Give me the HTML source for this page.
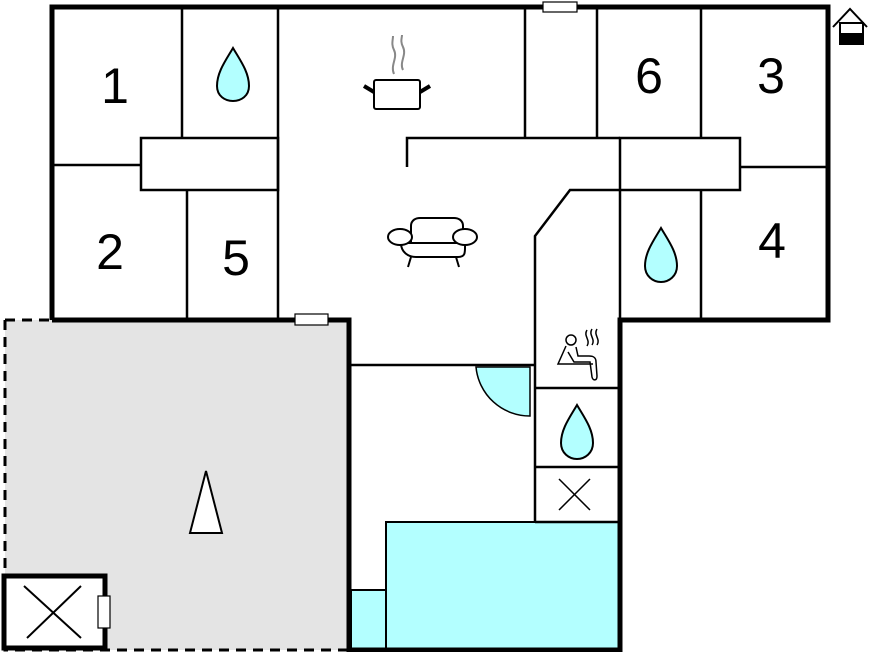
<!DOCTYPE html>
<html><head><style>html,body{margin:0;padding:0;background:#fff}svg{display:block}</style></head><body>
<svg width="874" height="652" viewBox="0 0 874 652" xmlns="http://www.w3.org/2000/svg" font-family="Liberation Sans, sans-serif">
<!-- terrace -->
<rect x="5" y="320" width="344" height="330" fill="#e4e4e4"/>
<path d="M5 320 V650 H349 M5 320 H52" fill="none" stroke="#000" stroke-width="3" stroke-dasharray="10 7"/>
<!-- pool -->
<rect x="386" y="522" width="234" height="128" fill="#b3ffff" stroke="#000" stroke-width="2"/>
<rect x="351" y="590" width="35" height="60" fill="#b3ffff" stroke="#000" stroke-width="2"/>
<g stroke="#000" stroke-width="2.5" fill="none">
<!-- left rooms -->
<line x1="182" y1="7" x2="182" y2="138"/>
<line x1="52" y1="165" x2="141" y2="165"/>
<rect x="141" y="138" width="137" height="52"/>
<line x1="187" y1="190" x2="187" y2="320"/>
<line x1="278" y1="7" x2="278" y2="320"/>
<!-- middle -->
<line x1="525" y1="7" x2="525" y2="138"/>
<line x1="597" y1="7" x2="597" y2="138"/>
<path d="M407 167 V138 H620"/>
<rect x="620" y="138" width="120" height="52"/>
<line x1="701" y1="7" x2="701" y2="138"/>
<line x1="740" y1="167" x2="828" y2="167"/>
<line x1="701" y1="190" x2="701" y2="320"/>
<line x1="620" y1="190" x2="620" y2="320"/>
<path d="M620 190 H570 L535 236 V522"/>
<line x1="349" y1="365" x2="535" y2="365"/>
<line x1="535" y1="388" x2="620" y2="388"/>
<line x1="535" y1="467" x2="620" y2="467"/>
<line x1="535" y1="522" x2="620" y2="522"/>
</g>
<!-- door -->
<path d="M476 367 A54 54 0 0 0 530 416 V367 Z" fill="#b3ffff" stroke="#000" stroke-width="1.5"/>
<!-- thick walls -->
<g stroke="#000" stroke-width="5" fill="none">
<path d="M52 320 V7 H828 V320 H620 V650 H349 V320 H52"/>
</g>
<!-- small box -->
<rect x="4" y="576" width="101" height="72" fill="#fff" stroke="#000" stroke-width="5"/>
<path d="M24 586 L81 638 M81 586 L27 638" stroke="#000" stroke-width="2"/>
<rect x="98" y="596" width="12" height="32" fill="#fff" stroke="#000" stroke-width="1.2"/>
<!-- windows -->
<rect x="543" y="2" width="34" height="10" fill="#fff" stroke="#000" stroke-width="1.2"/>
<rect x="295" y="314" width="33" height="11" fill="#fff" stroke="#000" stroke-width="1.2"/>
<!-- triangle -->
<path d="M206 471 L222 533 H190 Z" fill="#fff" stroke="#000" stroke-width="2"/>
<!-- X -->
<path d="M559 479 L590 510 M590 479 L559 510" stroke="#000" stroke-width="1.5"/>
<!-- drops -->
<g fill="#b3ffff" stroke="#000" stroke-width="2">
<path d="M233 48 C240 60 249 72 249 86 C249 96 241 101 233 101 C225 101 217 96 217 86 C217 72 226 60 233 48 Z"/>
<path d="M661 228 C668 240 677 252 677 266 C677 276 669 282 661 282 C653 282 645 276 645 266 C645 252 654 240 661 228 Z"/>
<path d="M577 405 C584 417 593 429 593 443 C593 453 585 459 577 459 C569 459 561 453 561 443 C561 429 570 417 577 405 Z"/>
</g>
<!-- numbers -->
<g font-size="50" text-anchor="middle" fill="#000">
<text x="115" y="103">1</text>
<text x="110" y="269">2</text>
<text x="236" y="275">5</text>
<text x="649" y="93">6</text>
<text x="771" y="93">3</text>
<text x="772" y="258">4</text>
</g>
<!-- pot -->
<g fill="none">
<path d="M394 74 C390 65 398 58 394 50 C391 44 393 40 393 36 M403 70 C399 62 407 55 403 47 C400 41 402 38 402 35" stroke="#888" stroke-width="2"/>
<rect x="374" y="80" width="46" height="29" rx="2" fill="#fff" stroke="#000" stroke-width="2"/>
<path d="M364 86 L374 92 M430 86 L420 92" stroke="#000" stroke-width="4"/>
</g>
<!-- sofa -->
<g fill="#fff" stroke="#000" stroke-width="2">
<path d="M411 245 V226 C411 220 416 218 420 218 H454 C458 218 463 220 463 226 V245 Z"/>
<path d="M401 243 C401 252 408 257 416 257 H458 C466 257 465 252 465 243 Z"/>
<ellipse cx="400" cy="237" rx="12" ry="8"/>
<ellipse cx="465" cy="237" rx="12" ry="8"/>
<path d="M411 257 L408 267 M456 257 L459 267" fill="none"/>
</g>
<!-- sauna -->
<g fill="none" stroke="#000" stroke-width="1.5">
<circle cx="571" cy="340" r="5"/>
<path d="M566 346 L558 364 H593 M568 352 L574 362 H590 L592 377 C593 381 597 381 597 376 L596 362 C596 357 593 356 589 356 H578 L576 347"/>
<path d="M587 330 C583 336 591 340 587 346 M592 329 C588 335 596 339 592 345 M597 329 C593 335 601 339 597 345"/>
</g>
<!-- house icon -->
<g>
<path d="M833 27 L850 9 L867 27" fill="none" stroke="#000" stroke-width="2"/>
<rect x="840" y="23" width="23" height="21" fill="#fff" stroke="#000" stroke-width="2"/>
<rect x="840" y="33" width="23" height="12" fill="#000"/>
</g>
</svg>
</body></html>
